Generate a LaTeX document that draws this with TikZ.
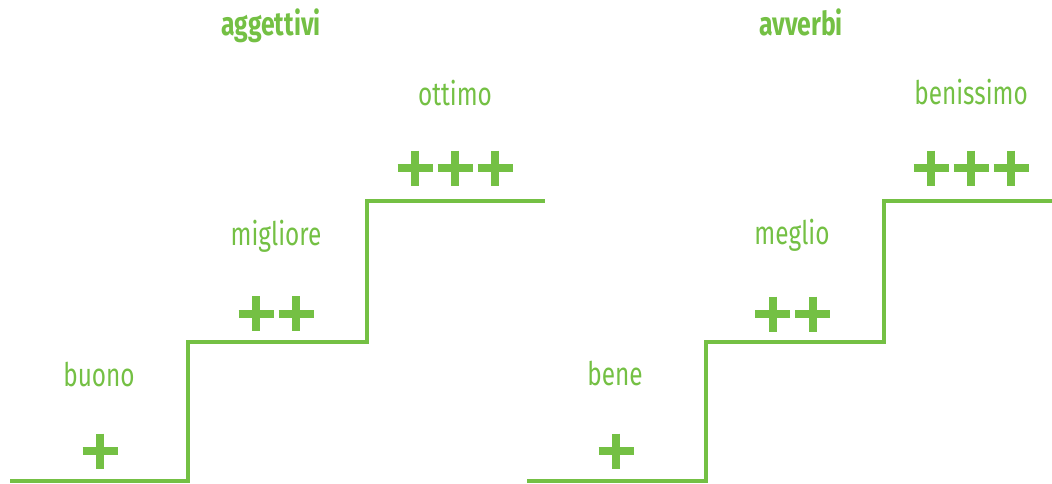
\documentclass[tikz,border=0pt]{standalone}
\usepackage{fontspec}
\setmainfont[FakeStretch=0.75]{Fira Sans}
\definecolor{lgreen}{RGB}{116,192,68}
\begin{document}
\begin{tikzpicture}[x=1pt,y=-1pt,
  lbl/.style={text=lgreen,anchor=base,inner sep=0pt,font=\fontsize{32.5}{32.5}\selectfont},
  ttl/.style={text=lgreen,anchor=base,inner sep=0pt,font=\fontsize{33}{33}\selectfont\bfseries},
  stair/.style={draw=lgreen,line width=4.5pt,line cap=butt,line join=miter},
  plussign/.pic={\draw[lgreen,line width=8pt,line cap=butt] (-17.5,0) -- (17.5,0) (0,-17.5) -- (0,17.5);}]
\useasboundingbox (0,0) rectangle (1052,483);
% titles
\node[ttl] (t1) at (271,35) {aggettivi};
\node[ttl] (t2) at (801,35) {avverbi};
% left stair
\draw[stair] (10,481) -- (188,481) -- (188,342) -- (367,342) -- (367,201) -- (545,201);
\node[lbl] (buono) at (99,386) {buono};
\node[lbl] (migliore) at (276,245) {migliore};
\node[lbl] (ottimo) at (455,105) {ottimo};
\pic at (100,451) {plussign};
\pic at (256,313.5) {plussign};
\pic at (296,313.5) {plussign};
\pic at (415,168) {plussign};
\pic at (455,168) {plussign};
\pic at (495,168) {plussign};
% right stair
\draw[stair] (527,481) -- (706,481) -- (706,342) -- (884,342) -- (884,201) -- (1052,201);
\node[lbl] (bene) at (615,385) {bene};
\node[lbl] (meglio) at (792,244) {meglio};
\node[lbl] (benissimo) at (971,104) {benissimo};
\pic at (616,451) {plussign};
\pic at (772.5,314) {plussign};
\pic at (812.5,314) {plussign};
\pic at (931,168) {plussign};
\pic at (971,168) {plussign};
\pic at (1011,168) {plussign};
\end{tikzpicture}
\end{document}
